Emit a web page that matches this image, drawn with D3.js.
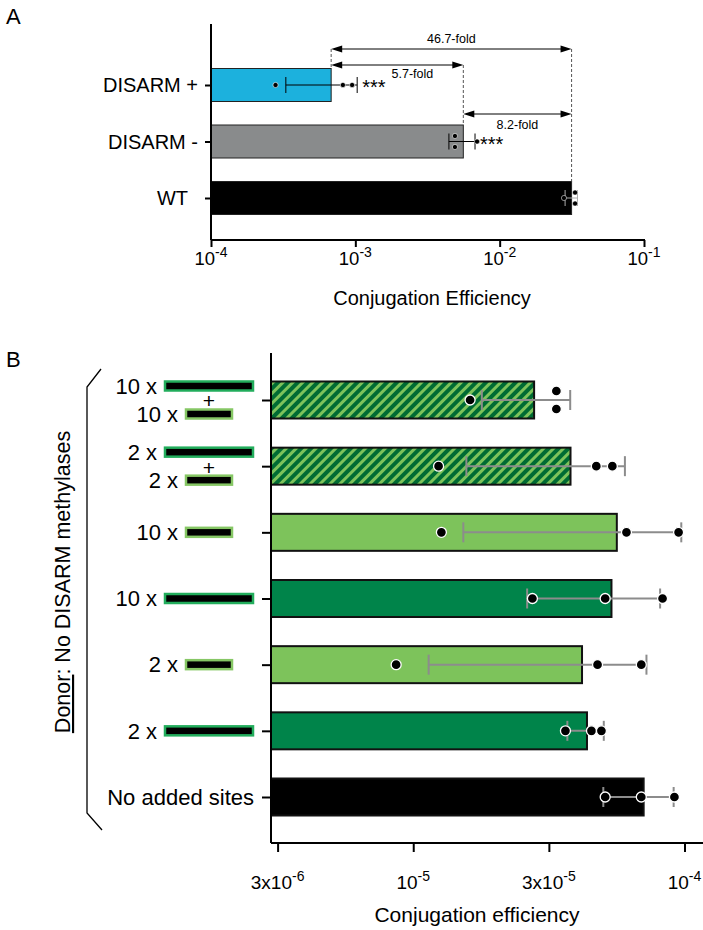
<!DOCTYPE html>
<html>
<head>
<meta charset="utf-8">
<script src="https://cdn.jsdelivr.net/npm/d3@7"></script>
<style>
  body { margin: 0; background: #fff; }
  svg { display: block; font-family: Arial, "Liberation Sans", Helvetica, sans-serif; }
</style>
</head>
<body>
<script>
// ---------- Panel A data ----------
const catsA = ["DISARM +", "DISARM -", "WT"];
const meanA = [6.8e-4, 5.6e-3, 3.15e-2];
const sdA = [3.5e-4, 1.15e-3, 3.1e-3];
const ptsA = [
    [2.8e-4, 8.2e-4, 9.5e-4],
    [4.9e-3, 4.9e-3, 6.97e-3],
    [2.79e-2, 3.33e-2, 3.33e-2]
];
const starsA = ["***", "***", ""];
const foldPairs = [[0, 2], [0, 1], [1, 2]];
const foldLabels = ["46.7-fold", "5.7-fold", "8.2-fold"];
const ticksA = [1e-4, 1e-3, 1e-2, 1e-1];
const tickLabelsA = [["10", "-4"], ["10", "-3"], ["10", "-2"], ["10", "-1"]];

// ---------- Panel B data ----------
const catsB = ["10x long + 10x short", "2x long + 2x short", "10x short", "10x long", "2x short", "2x long", "No added sites"];
const sitesB = [
    [["10 x", "long"], ["10 x", "short"]],
    [["2 x", "long"], ["2 x", "short"]],
    [["10 x", "short"]],
    [["10 x", "long"]],
    [["2 x", "short"]],
    [["2 x", "long"]],
    []
];
const meanB = [2.79e-5, 3.80e-5, 5.63e-5, 5.38e-5, 4.19e-5, 4.37e-5, 7.07e-5];
const sdB = [1.0e-5, 2.23e-5, 4.1e-5, 2.75e-5, 3.05e-5, 6.7e-6, 2.05e-5];
const ptsB = [
    [1.62e-5, 3.37e-5, 3.37e-5],
    [1.24e-5, 4.73e-5, 5.42e-5],
    [1.27e-5, 6.11e-5, 9.51e-5],
    [2.75e-5, 5.10e-5, 8.30e-5],
    [8.65e-6, 4.78e-5, 6.93e-5],
    [3.64e-5, 4.54e-5, 4.94e-5],
    [5.10e-5, 6.93e-5, 9.18e-5]
];
const ticksB = [Math.pow(10, -5.5), 1e-5, Math.pow(10, -4.5), 1e-4];
const tickLabelsB = [["3x10", "-6"], ["10", "-5"], ["3x10", "-5"], ["10", "-4"]];

// colours
const cyan = "#1cb1dd", grey = "#898b8c";
const lightGreen = "#7dc35b", darkGreen = "#00844a", hatchDark = "#006b33";
const iconLong = "#22ad5c", iconShort = "#86c765";

const [w, h] = [703, 930];

const svg = d3.select("body")
    .append("svg")
    .attr("width", w)
    .attr("height", h);

// hatch pattern for the combined rows
const defs = svg.append("defs");
const pat = defs.append("pattern")
    .attr("id", "hatch")
    .attr("patternUnits", "userSpaceOnUse")
    .attr("width", 7)
    .attr("height", 7)
    .attr("patternTransform", "rotate(45)");
pat.append("rect").attr("width", 7).attr("height", 7).attr("fill", hatchDark);
pat.append("rect").attr("width", 3).attr("height", 7).attr("fill", lightGreen);

// helper: offsets points that land on top of each other
function jitter(values, scale, gap) {
    const out = [];
    values.forEach((v, i) => {
        const same = values.filter(u => Math.abs(scale(u) - scale(v)) < 4);
        if (same.length > 1) {
            const k = values.slice(0, i).filter(u => Math.abs(scale(u) - scale(v)) < 4).length;
            out.push({ v: v, dy: (k - (same.length - 1) / 2) * gap });
        } else {
            out.push({ v: v, dy: 0 });
        }
    });
    return out;
}

// =================== PANEL A ===================
const gA = svg.append("g");

const xA = d3.scaleLog().domain([1e-4, 1e-1]).range([211, 644]);
const yA = d3.scalePoint().domain(catsA).range([85, 198]);
const barHA = 33;

gA.append("text").attr("x", 6).attr("y", 24).attr("font-size", 22).text("A");

// bars
gA.selectAll("rect.bar")
    .data(catsA)
    .enter()
    .append("rect")
    .attr("class", "bar")
    .attr("x", xA(1e-4))
    .attr("y", d => yA(d) - barHA / 2)
    .attr("width", (d, i) => xA(meanA[i]) - xA(1e-4))
    .attr("height", barHA)
    .attr("fill", (d, i) => [cyan, grey, "#000"][i])
    .attr("stroke", "#222")
    .attr("stroke-width", 1);

// error bars (mean +/- sd)
let starsRight = 0;
catsA.forEach((c, i) => {
    const y = yA(c);
    const x0 = xA(meanA[i] - sdA[i]), x1 = xA(meanA[i] + sdA[i]);
    const col = i === 2 ? "#aaa" : "#000";
    gA.append("line").attr("x1", x0).attr("x2", x1).attr("y1", y).attr("y2", y)
        .attr("stroke", col).attr("stroke-width", 1);
    [x0, x1].forEach(x => gA.append("line")
        .attr("x1", x).attr("x2", x).attr("y1", y - 8).attr("y2", y + 8)
        .attr("stroke", col).attr("stroke-width", 1));
    // points
    gA.selectAll(null)
        .data(jitter(ptsA[i], xA, 11))
        .enter()
        .append("circle")
        .attr("cx", d => xA(d.v))
        .attr("cy", d => y + d.dy)
        .attr("r", 2.6)
        .attr("fill", "#000")
        .attr("stroke", d => xA(d.v) < xA(meanA[i]) - 2 && i === 2 ? "#ddd" : "#fff")
        .attr("stroke-width", 0.6);
    if (starsA[i]) {
        const st = gA.append("text")
            .attr("x", x1 + 5)
            .attr("y", y + 9)
            .attr("font-size", 20)
            .text(starsA[i]);
        if (i === 0) starsRight = x1 + 5 + st.node().getComputedTextLength();
    }
});

// y axis A
gA.append("g")
    .attr("transform", "translate(" + xA(1e-4) + ",0)")
    .call(d3.axisLeft(yA).tickSize(6).tickFormat(""))
    .call(g => g.select(".domain").attr("d", "M0,24V240").attr("stroke-width", 2))
    .call(g => g.selectAll(".tick line").attr("stroke-width", 2));

gA.selectAll("text.catA")
    .data(catsA)
    .enter()
    .append("text")
    .attr("class", "catA")
    .attr("x", (d, i) => i === 2 ? 188 : 198)
    .attr("y", d => yA(d))
    .attr("dy", "0.35em")
    .attr("text-anchor", "end")
    .attr("font-size", 20)
    .text(d => d);

// x axis A
const axA = gA.append("g")
    .attr("transform", "translate(0,240)")
    .call(d3.axisBottom(xA).tickValues(ticksA).tickSize(7).tickFormat(""));
axA.select(".domain").attr("stroke-width", 2).attr("d", "M211,0H645");
axA.selectAll(".tick line").attr("stroke-width", 2);

ticksA.forEach((t, i) => {
    const tx = gA.append("text")
        .attr("x", xA(t))
        .attr("y", 265)
        .attr("text-anchor", "middle")
        .attr("font-size", 18.5);
    tx.append("tspan").text(tickLabelsA[i][0]);
    tx.append("tspan").attr("dy", -8).attr("font-size", 14).text(tickLabelsA[i][1]);
});

gA.append("text")
    .attr("x", 432)
    .attr("y", 305)
    .attr("text-anchor", "middle")
    .attr("font-size", 20)
    .text("Conjugation Efficiency");

// fold change arrows
const arrowY = [49, 65, 114];
const labelY = [43, 78, 129];
foldPairs.forEach((p, k) => {
    const xa = xA(meanA[p[0]]), xb = xA(meanA[p[1]]);
    const y = arrowY[k];
    gA.append("line").attr("x1", xa + 10).attr("x2", xb - 10).attr("y1", y).attr("y2", y)
        .attr("stroke", "#000").attr("stroke-width", 1);
    gA.append("path").attr("d", `M${xa},${y}l11,-3.5v7z`).attr("fill", "#000");
    gA.append("path").attr("d", `M${xb},${y}l-11,-3.5v7z`).attr("fill", "#000");
    const lab = gA.append("text")
        .attr("y", labelY[k])
        .attr("text-anchor", "middle")
        .attr("font-size", 12.5)
        .text(foldLabels[k]);
    // keep the label clear of the stars under the arrow
    const half = lab.node().getComputedTextLength() / 2;
    let cx = (xa + xb) / 2;
    if (k === 1 && cx - half < starsRight + 6) cx = starsRight + 6 + half;
    lab.attr("x", cx);
});

// dashed guides from bar ends up to the arrows
catsA.forEach((c, i) => {
    const top = d3.min(foldPairs.map((p, k) => p.includes(i) ? arrowY[k] : 999));
    gA.append("line")
        .attr("x1", xA(meanA[i])).attr("x2", xA(meanA[i]))
        .attr("y1", top).attr("y2", yA(c) - barHA / 2)
        .attr("stroke", "#555").attr("stroke-width", 1)
        .attr("stroke-dasharray", "3,2");
});

// =================== PANEL B ===================
const gB = svg.append("g");

const xB = d3.scaleLog().domain([2.99e-6, 1.17e-4]).range([271, 703]);
const yB = d3.scalePoint().domain(catsB).range([400, 797]);
const barHB = 37;

gB.append("text").attr("x", 6).attr("y", 367).attr("font-size", 22).text("B");

function fillFor(i) {
    const s = sitesB[i];
    if (s.length === 0) return "#000";
    if (s.length > 1) return "url(#hatch)";
    return s[0][1] === "long" ? darkGreen : lightGreen;
}

gB.selectAll("rect.bar")
    .data(catsB)
    .enter()
    .append("rect")
    .attr("class", "bar")
    .attr("x", 271)
    .attr("y", d => yB(d) - barHB / 2)
    .attr("width", (d, i) => xB(meanB[i]) - 271)
    .attr("height", barHB)
    .attr("fill", (d, i) => fillFor(i))
    .attr("stroke", "#111")
    .attr("stroke-width", 2);

// error bars and points B
catsB.forEach((c, i) => {
    const y = yB(c);
    const x0 = xB(meanB[i] - sdB[i]), x1 = xB(meanB[i] + sdB[i]);
    gB.append("line").attr("x1", x0).attr("x2", x1).attr("y1", y).attr("y2", y)
        .attr("stroke", "#8c8c8c").attr("stroke-width", 2);
    [x0, x1].forEach(x => gB.append("line")
        .attr("x1", x).attr("x2", x).attr("y1", y - 10).attr("y2", y + 10)
        .attr("stroke", "#8c8c8c").attr("stroke-width", 2));
    gB.selectAll(null)
        .data(jitter(ptsB[i], xB, 18))
        .enter()
        .append("circle")
        .attr("cx", d => xB(d.v))
        .attr("cy", d => y + d.dy)
        .attr("r", 5)
        .attr("fill", "#000")
        .attr("stroke", "#fff")
        .attr("stroke-width", 1.3);
});

// y axis B
gB.append("g")
    .attr("transform", "translate(271,0)")
    .call(d3.axisLeft(yB).tickSize(9).tickFormat(""))
    .call(g => g.select(".domain").attr("d", "M0,353V843").attr("stroke-width", 2))
    .call(g => g.selectAll(".tick line").attr("stroke-width", 2));

// category labels with site icons
const iconCx = 209;
catsB.forEach((c, i) => {
    const y = yB(c);
    const rows = sitesB[i];
    if (rows.length === 0) {
        gB.append("text")
            .attr("x", 254).attr("y", y).attr("dy", "0.35em")
            .attr("text-anchor", "end").attr("font-size", 22)
            .text(c);
        return;
    }
    const offs = rows.length > 1 ? [-14, 14] : [0];
    rows.forEach((r, k) => {
        const yy = y + offs[k];
        const iw = r[1] === "long" ? 88 : 46;
        gB.append("rect")
            .attr("x", iconCx - iw / 2).attr("y", yy - 4.5)
            .attr("width", iw).attr("height", 9)
            .attr("fill", "#000")
            .attr("stroke", r[1] === "long" ? iconLong : iconShort)
            .attr("stroke-width", 2.5);
        gB.append("text")
            .attr("x", iconCx - iw / 2 - 8).attr("y", yy).attr("dy", "0.35em")
            .attr("text-anchor", "end").attr("font-size", 22)
            .text(r[0]);
    });
    if (rows.length > 1) {
        gB.append("text")
            .attr("x", iconCx).attr("y", y + 1).attr("dy", "0.35em")
            .attr("text-anchor", "middle").attr("font-size", 21)
            .text("+");
    }
});

// x axis B
const axB = gB.append("g")
    .attr("transform", "translate(0,843)")
    .call(d3.axisBottom(xB).tickValues(ticksB).tickSize(9).tickFormat(""));
axB.select(".domain").attr("stroke-width", 2).attr("d", "M271,0H703");
axB.selectAll(".tick line").attr("stroke-width", 2);

ticksB.forEach((t, i) => {
    const tx = gB.append("text")
        .attr("x", xB(t))
        .attr("y", 889)
        .attr("text-anchor", "middle")
        .attr("font-size", 19);
    tx.append("tspan").text(tickLabelsB[i][0]);
    tx.append("tspan").attr("dy", -8).attr("font-size", 14).text(tickLabelsB[i][1]);
});

gB.append("text")
    .attr("x", 477)
    .attr("y", 922)
    .attr("text-anchor", "middle")
    .attr("font-size", 21)
    .text("Conjugation efficiency");

// bracket grouping the donor rows
gB.append("path")
    .attr("d", "M101,369L87,387V813L102,830")
    .attr("fill", "none")
    .attr("stroke", "#000")
    .attr("stroke-width", 1.3);

const side = gB.append("text")
    .attr("transform", "translate(70,582) rotate(-90)")
    .attr("text-anchor", "middle")
    .attr("font-size", 21.5);
side.append("tspan").attr("text-decoration", "underline").text("Donor");
side.append("tspan").text(": No DISARM methylases");
</script>
</body>
</html>
